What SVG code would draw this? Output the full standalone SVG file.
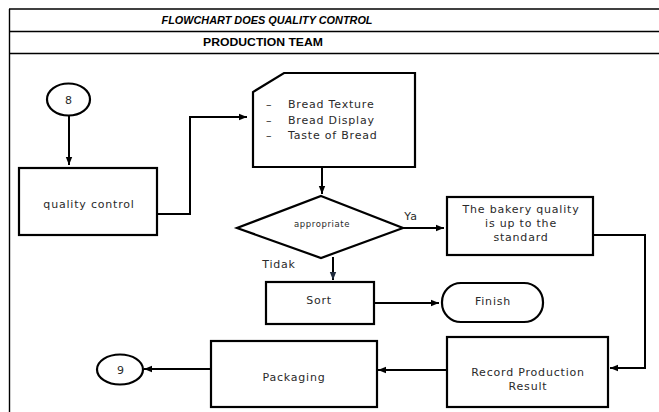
<svg xmlns="http://www.w3.org/2000/svg" width="659" height="412" viewBox="0 0 659 412">
  <defs>
    <marker id="arrow" viewBox="0 0 10 10" refX="10" refY="5" markerWidth="4" markerHeight="4" orient="auto" markerUnits="strokeWidth">
      <path d="M0,1 L10,5 L0,9 Z" fill="#000"/>
    </marker>
    <marker id="arrowNavy" viewBox="0 0 10 10" refX="10" refY="5" markerWidth="4" markerHeight="4" orient="auto" markerUnits="strokeWidth">
      <path d="M0,1 L10,5 L0,9 Z" fill="#1f2a3c"/>
    </marker>
    <style>
      .grid { stroke: #000; stroke-width: 1.4; fill: none; }
      .shape { fill: #fff; stroke: #000; stroke-width: 2.2; }
      .conn { fill: none; stroke: #000; stroke-width: 2; marker-end: url(#arrow); }
      .label { font-family: "DejaVu Sans", Verdana, sans-serif; font-size: 11px; letter-spacing: 0.8px; fill: #2a2a2a; text-anchor: middle; }
      .small { font-size: 8.5px; letter-spacing: 0.6px; }
      .head { font-family: "Liberation Sans", Arial, sans-serif; font-size: 11px; font-weight: bold; fill: #000; text-anchor: middle; }
    </style>
  </defs>

  <rect width="659" height="412" fill="#fff"/>

  <!-- table frame -->
  <g id="table">
    <line class="grid" x1="9" y1="9" x2="659" y2="9"/>
    <line class="grid" x1="9" y1="31.5" x2="659" y2="31.5"/>
    <line class="grid" x1="9" y1="53.5" x2="659" y2="53.5"/>
    <line class="grid" x1="9.5" y1="9" x2="9.5" y2="412" stroke-width="1.8"/>
    <text class="head" x="267" y="24" font-style="italic" textLength="211" lengthAdjust="spacingAndGlyphs">FLOWCHART DOES QUALITY CONTROL</text>
    <text class="head" x="263" y="46" textLength="120" lengthAdjust="spacingAndGlyphs">PRODUCTION TEAM</text>
  </g>

  <!-- connectors -->
  <g id="connectors">
    <line class="conn" x1="69" y1="116" x2="69" y2="165"/>
    <polyline class="conn" points="157,214 190,214 190,117 247,117"/>
    <line class="conn" x1="322" y1="167" x2="322" y2="194"/>
    <line class="conn" x1="403" y1="228" x2="444" y2="228"/>
    <polyline class="conn" points="593,235 645,235 645,368 610,368"/>
    <line class="conn" x1="447" y1="370" x2="378" y2="370"/>
    <line class="conn" x1="211" y1="369" x2="144" y2="369"/>
    <line class="conn" x1="333" y1="257" x2="333" y2="280" stroke="#1f2a3c" style="marker-end:url(#arrowNavy)"/>
    <line class="conn" x1="374" y1="303" x2="439" y2="303"/>
  </g>

  <g id="start-8">
    <ellipse class="shape" cx="68.5" cy="99.5" rx="21.5" ry="16"/>
    <text class="label" x="69" y="103.5">8</text>
  </g>

  <g id="quality-control">
    <rect class="shape" x="19" y="168" width="138" height="67"/>
    <text class="label" x="89" y="208">quality control</text>
  </g>

  <g id="criteria">
    <polygon class="shape" points="284,73 415,73 415,167 253,167 253,92"/>
    <g class="label" style="text-anchor:start">
      <text x="266" y="108">–</text>
      <text x="288" y="108">Bread Texture</text>
      <text x="266" y="124">–</text>
      <text x="288" y="124">Bread Display</text>
      <text x="266" y="139">–</text>
      <text x="288" y="139">Taste of Bread</text>
    </g>
  </g>

  <g id="appropriate">
    <polygon class="shape" points="321,196 403,228 321,258 237,228"/>
    <text class="label small" x="322" y="227">appropriate</text>
    <text class="label" x="411" y="220">Ya</text>
    <text class="label" x="279" y="268">Tidak</text>
  </g>

  <g id="standard">
    <rect class="shape" x="447" y="197" width="146" height="58"/>
    <text class="label" x="521" y="213">The bakery quality</text>
    <text class="label" x="521" y="227">is up to the</text>
    <text class="label" x="521" y="241">standard</text>
  </g>

  <g id="sort">
    <rect class="shape" x="266" y="282" width="108" height="42"/>
    <text class="label" x="319" y="304">Sort</text>
  </g>

  <g id="finish">
    <rect class="shape" x="442" y="283" width="101" height="39" rx="19" ry="19"/>
    <text class="label" x="493" y="305">Finish</text>
  </g>

  <g id="record">
    <rect class="shape" x="447" y="337" width="161" height="70"/>
    <text class="label" x="528" y="376">Record Production</text>
    <text class="label" x="528" y="390">Result</text>
  </g>

  <g id="packaging">
    <rect class="shape" x="211" y="341" width="166" height="66"/>
    <text class="label" x="294" y="381">Packaging</text>
  </g>

  <g id="end-9">
    <ellipse class="shape" cx="120" cy="369.5" rx="23" ry="15"/>
    <text class="label" x="121" y="373.5">9</text>
  </g>
</svg>
